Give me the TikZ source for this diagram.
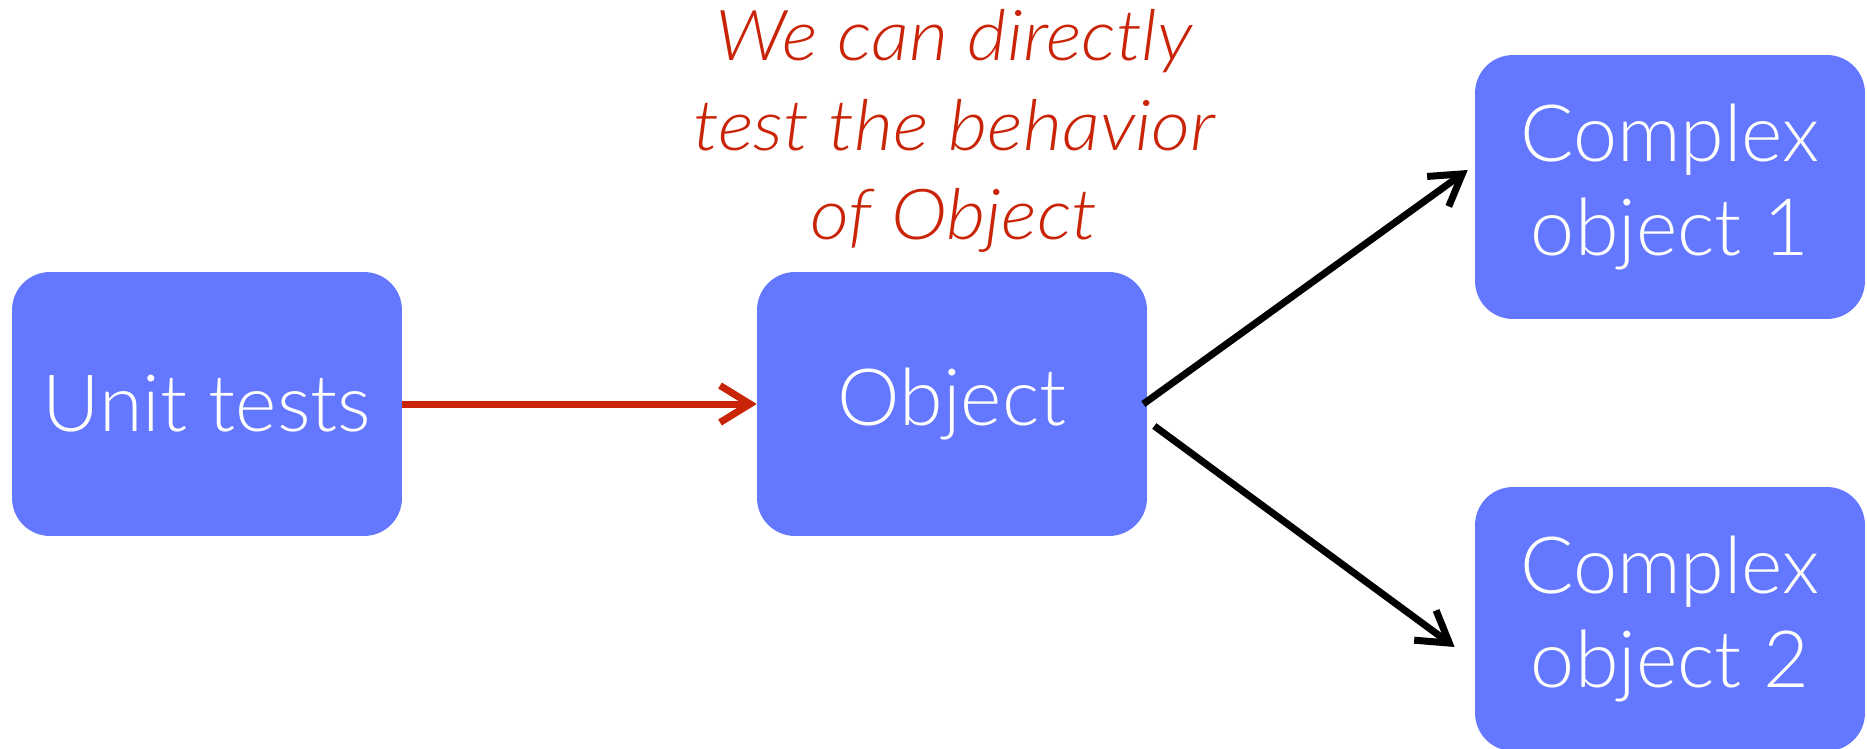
\documentclass[tikz,border=0pt]{standalone}
\usepackage{fontspec}
\setmainfont{Lato Light}[ItalicFont={Lato Light Italic}]
\newfontfamily\notefont{Lato Light Italic}[FakeStretch=1.08]
\usetikzlibrary{arrows.meta,calc}
\definecolor{boxblue}{RGB}{99,120,255}
\definecolor{notered}{RGB}{201,36,8}
\begin{document}
\begin{tikzpicture}[x=0.02cm,y=-0.02cm,
  objbox/.style={fill=boxblue, rounded corners=0.76cm, minimum width=7.8cm,
    minimum height=5.28cm, inner sep=0pt, text=white, align=center,
    font=\fontsize{45}{53.5}\selectfont},
  link/.style={line width=0.14cm,
    -{Straight Barb[length=0.6cm,width=0.74cm]}},
  note/.style={text=notered, align=center, inner sep=0pt,
    font=\notefont\fontsize{40}{51}\selectfont}]
  \useasboundingbox (0,0) rectangle (1867,748);

  % boxes
  \node[objbox] (unit) at (207,404) {Unit tests};
  \node[objbox] (obj)  at (952,404) {Object};
  \node[objbox] (c1)   at (1670,187) {Complex\\object 1};
  \node[objbox] (c2)   at (1670,619) {Complex\\object 2};

  % annotation above the object
  \node[note] (txt) at (954,131) {We can directly\\test the behavior\\of Object};

  % connectors
  \draw[link, notered] (unit.east) -- (obj.west);
  \draw[link, black] ($(obj.east)+(-4,0)$) -- ($(c1.west)+(-7,-17)$);
  \draw[link, black] ($(obj.east)+(7,22)$) -- ($(c2.west)+(-20,28)$);
\end{tikzpicture}
\end{document}
